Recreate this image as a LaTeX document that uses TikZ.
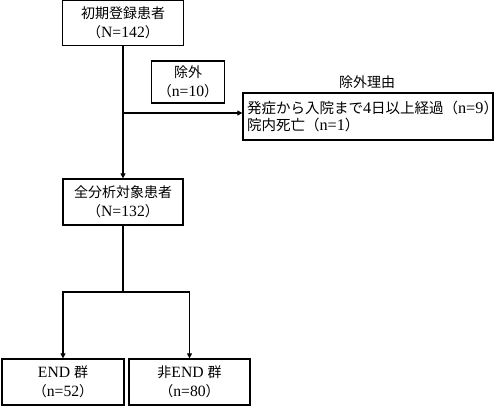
\documentclass[tikz,border=0pt]{standalone}
\usepackage{fontspec}
\setmainfont{Liberation Serif}[Scale=1.12]
\newfontfamily\cjk{Noto Sans CJK JP}
\usetikzlibrary{arrows.meta}
\newcommand\jlp{{\cjk （}}
\newcommand\jrp{{\cjk ）}}
\begin{document}
\begin{tikzpicture}[x=1pt,y=-1pt,
  box/.style={draw,line width=1.3pt,minimum width=#1,minimum height=45pt,align=center,inner sep=0pt,font=\fontsize{14}{18.5}\selectfont},
  conn/.style={line width=1.3pt},
  arr/.style={conn,-{Triangle[length=5pt,width=5pt]}}]
\useasboundingbox (0,0) rectangle (500,407);
\node[box=121pt] (top) at (123,23) {{\cjk 初期登録患者}\\\jlp N=142\jrp};
\node[box=73pt,minimum height=42pt] (excl) at (188,82) {{\cjk 除外}\\\jlp n=10\jrp};
\node[font=\fontsize{14}{18}\selectfont\cjk] (title) at (367,82) {除外理由};
\node[draw,line width=1.3pt,minimum width=250pt,minimum height=47pt,inner sep=0pt,align=left,text width=242pt,font=\fontsize{14.5}{17}\selectfont] (reason) at (368,116.5)
  {{\cjk 発症から入院まで}4{\cjk 日以上経過}\jlp n=9\jrp\\{\cjk 院内死亡}\jlp n=1\jrp};
\node[box=120pt,minimum height=46pt] (mid) at (123,202) {{\cjk 全分析対象患者}\\\jlp N=132\jrp};
\node[box=122pt,minimum height=46pt] (end) at (63,382) {END {\cjk 群}\\\jlp n=52\jrp};
\node[box=121pt,minimum height=46pt] (nonend) at (189.5,382) {{\cjk 非}END {\cjk 群}\\\jlp n=80\jrp};
\coordinate (j) at (123,113);
\coordinate (b) at (123,292);
\draw[arr] (top.south) -- (mid.north);
\draw[arr] (j) -- (j -| reason.west);
\draw[conn] (mid.south) -- (b);
\draw[arr] (b) -| (end.north);
\draw[arr] (b) -| (nonend.north);
\end{tikzpicture}
\end{document}
